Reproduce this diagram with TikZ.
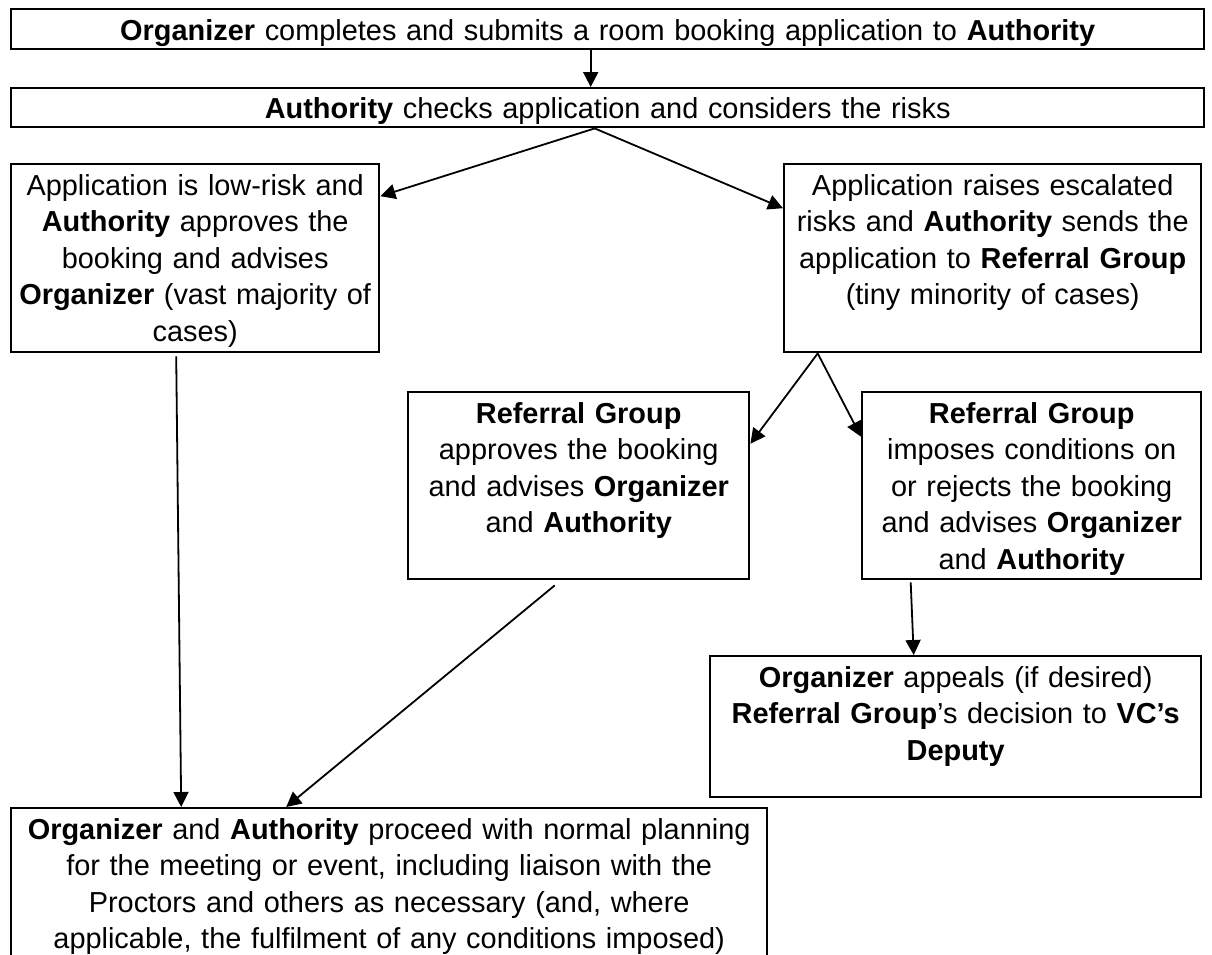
\documentclass[tikz,border=0pt]{standalone}
\usepackage{fontspec}
\setmainfont{Liberation Sans}
\usepackage{tikz}
\usetikzlibrary{arrows.meta, positioning, calc}

\begin{document}
\begin{tikzpicture}[x=1pt, y=-1pt, every node/.style={font=\fontsize{28.9}{36.5}\selectfont}, align=center]
  % Styles
  \tikzstyle{stage} = [rectangle, draw=black, line width=2.4pt, inner xsep=4pt, inner ysep=0pt, anchor=north west, text height=31pt]
  \tikzstyle{arrow} = [line width=1.8pt, ->, >={Triangle[length=15pt, width=15pt]}]

  \path[use as bounding box, clip] (0,0) rectangle (1212,954);

  % Application and check
  \node (submit) [stage, text width=1185pt, text depth=9pt] at (10,8) {\textbf{Organizer} completes and submits a room booking application to \textbf{Authority}};
  \node (check) [stage, text width=1185pt, text depth=9pt, text height=30pt] at (10,87) {\textbf{Authority} checks application and considers the risks};

  % Outcomes of the check
  \node (low) [stage, text width=360pt, text depth=157pt] at (10,163) {Application is low-risk and\\ \textbf{Authority} approves the\\ booking and advises\\ \textbf{Organizer} (vast majority of\\ cases)};
  \node (esc) [stage, text width=409pt, text depth=157pt] at (783,163) {Application raises escalated\\ risks and \textbf{Authority} sends the\\ application to \textbf{Referral Group}\\ (tiny minority of cases)};

  % Referral Group decisions
  \node (rgok) [stage, text width=333pt, text depth=156pt] at (407,391) {\textbf{Referral Group}\\ approves the booking\\ and advises \textbf{Organizer}\\ and \textbf{Authority}};
  \node (rgno) [stage, text width=331pt, text depth=156pt] at (861,391) {\textbf{Referral Group}\\ imposes conditions on\\ or rejects the booking\\ and advises \textbf{Organizer}\\ and \textbf{Authority}};

  % Appeal and planning
  \node (appeal) [stage, text width=483pt, text depth=110pt] at (709,655) {\textbf{Organizer} appeals (if desired)\\ \textbf{Referral Group}’s decision to \textbf{VC’s}\\ \textbf{Deputy}};
  \node (proceed) [stage, text width=748pt, text depth=142pt] at (10,807) {\textbf{Organizer} and \textbf{Authority} proceed with normal planning\\ for the meeting or event, including liaison with the\\ Proctors and others as necessary (and, where\\ applicable, the fulfilment of any conditions imposed)};

  % Connections
  \draw [arrow] ([xshift=-17pt]submit.south) -- ([xshift=-17pt]check.north);
  \draw [arrow] ([xshift=-13pt]check.south) -- ([yshift=62pt]low.east);
  \draw [arrow] ([xshift=-13pt]check.south) -- ([yshift=50pt]esc.west);
  \draw [arrow] ([xshift=-175pt]esc.south) -- ([yshift=42pt]rgok.east);
  \draw [arrow] ([xshift=-175pt]esc.south) -- ([yshift=49pt]rgno.west);
  \draw [arrow] ([xshift=-121pt,yshift=-2pt]rgno.south) -- ([xshift=-42pt]appeal.north);
  \draw [arrow] ([xshift=-19pt,yshift=-3pt]low.south) -- ([xshift=-208pt]proceed.north);
  \draw [arrow] ([xshift=-24pt,yshift=-5pt]rgok.south) -- ([xshift=-103pt]proceed.north);
\end{tikzpicture}
\end{document}
